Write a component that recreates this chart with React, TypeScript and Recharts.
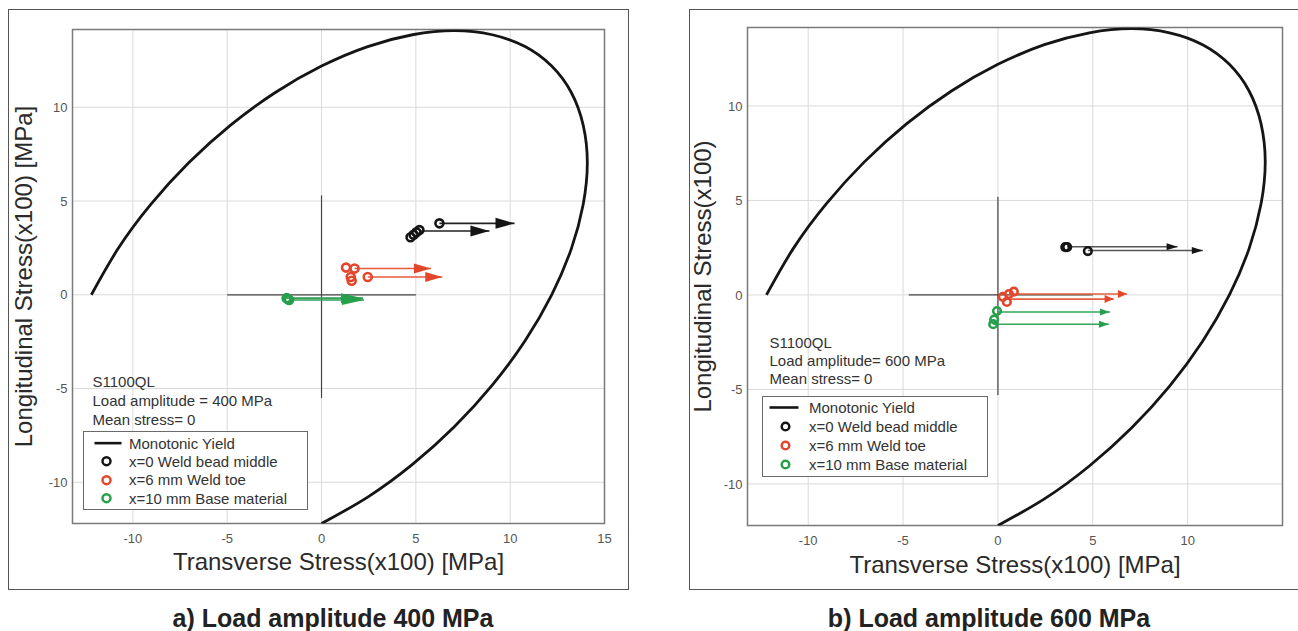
import React from 'react';
import { ScatterChart, Scatter, XAxis, YAxis, CartesianGrid, ReferenceLine, ReferenceArea, Legend } from 'recharts';

type Pair = [number, number];
type Arrow = [number, number, number]; // [xFrom, xTo, y]

const FONT = '"Liberation Sans", Arial, Helvetica, sans-serif';

// Monotonic yield locus (x100 MPa), points along the drawn curve
const YIELD_X = [-12.2, -10.79, -9.05, -7.04, -4.82, -2.45, 0, 2.45, 4.82, 7.04, 9.05, 10.79, 12.2, 13.24, 13.87, 14.09, 13.87, 13.24, 12.2, 10.79, 9.05, 7.04, 4.82, 2.45, 0];
const YIELD_Y = [0, 2.45, 4.82, 7.04, 9.05, 10.79, 12.2, 13.24, 13.87, 14.09, 13.87, 13.24, 12.2, 10.79, 9.05, 7.04, 4.82, 2.45, 0, -2.45, -4.82, -7.04, -9.05, -10.79, -12.2];

const X_DOMAIN = [-13.2, 15];
const Y_DOMAIN = [-12.2, 14.15];
const X_TICKS_A = [-10, -5, 0, 5, 10, 15];
const X_TICKS_B = [-10, -5, 0, 5, 10];
const Y_TICKS = [-10, -5, 0, 5, 10];

const LEGEND_LABELS = ['Monotonic Yield', 'x=0 Weld bead middle', 'x=6 mm Weld toe', 'x=10 mm Base material'];

// a) load amplitude 400 MPa
const A_NOTES = ['S1100QL', 'Load amplitude = 400 MPa', 'Mean stress= 0'];
const A_BEAD: Pair[] = [[4.72, 3.07], [4.88, 3.2], [5.03, 3.33], [5.19, 3.45], [6.25, 3.81]];
const A_TOE: Pair[] = [[1.3, 1.45], [1.75, 1.4], [1.55, 0.95], [1.6, 0.75], [2.45, 0.95]];
const A_BASE: Pair[] = [[-1.85, -0.18], [-1.72, -0.28], [-1.78, -0.22]];
const A_BEAD_ARROWS: Arrow[] = [[6.25, 10.23, 3.81], [5.19, 8.9, 3.4]];
const A_TOE_ARROWS: Arrow[] = [[1.75, 5.8, 1.4], [2.45, 6.4, 0.95]];
const A_BASE_ARROWS: Arrow[] = [[-1.85, 2.2, -0.18], [-1.72, 2.25, -0.28]];
const A_CROSS_X = [-5, 5];
const A_CROSS_Y = [-5.5, 5.3];

// b) load amplitude 600 MPa
const B_NOTES = ['S1100QL', 'Load amplitude= 600 MPa', 'Mean stress= 0'];
const B_BEAD: Pair[] = [[3.55, 2.53], [3.65, 2.53], [4.74, 2.32]];
const B_TOE: Pair[] = [[0.26, -0.1], [0.47, -0.37], [0.58, 0.05], [0.84, 0.17]];
const B_BASE: Pair[] = [[-0.05, -0.85], [-0.2, -1.3], [-0.25, -1.55]];
const B_BEAD_ARROWS: Arrow[] = [[3.65, 9.47, 2.55], [4.74, 10.8, 2.35]];
const B_TOE_ARROWS: Arrow[] = [[0.84, 6.8, 0.05], [0.47, 6.1, -0.22]];
const B_BASE_ARROWS: Arrow[] = [[-0.05, 5.9, -0.9], [-0.25, 5.85, -1.55]];
const B_CROSS_X = [-4.7, 5];
const B_CROSS_Y = [-5.3, 5.2];

const BLACK = '#151515';
const RED = '#e4462b';
const GREEN = '#27a04c';

const yieldData = YIELD_X.map((x, i) => ({ x, y: YIELD_Y[i] }));
const toPoints = (pairs: Pair[]) => pairs.map(([x, y]) => ({ x, y }));

const ring = (color: string, r: number, w: number) => (p: any) =>
  <circle cx={p.cx} cy={p.cy} r={r} fill="none" stroke={color} strokeWidth={w} />;

const arrowHead = (color: string, len: number, half: number) => (p: any) =>
  p.payload && p.payload.tip ? (
    <polygon points={`${p.cx},${p.cy} ${p.cx - len},${p.cy - half} ${p.cx - len},${p.cy + half}`} fill={color} />
  ) : (
    <g />
  );

interface Group {
  key: string;
  color: string;
  shaft: string;
  points: Pair[];
  arrows: Arrow[];
  head: [number, number];
}

interface LegendBox {
  left: number;
  top: number;
  notePad: number;
  noteLine: number;
  gap: number;
  width: number;
  height: number;
  rowH: number;
  padTop: number;
  lineFrom: number;
  lineTo: number;
  markerX: number;
  textX: number;
}

interface PanelProps {
  left: number;
  top: number;
  margin: { top: number; right: number; bottom: number; left: number };
  xTicks: number[];
  yTitle: string;
  yTitleOffset: number;
  xTitleOffset: number;
  groups: Group[];
  crossX: number[];
  crossY: number[];
  notes: string[];
  legend: LegendBox;
  ringR: number;
  caption: string;
  captionX: number;
}

const FRAME_W = 621;
const FRAME_H = 581;
// the svg reaches a little past the frame's left edge so the rotated title is not clipped
const PAD = 8;

const LegendBlock = ({ notes, box, ringR }: { notes: string[]; box: LegendBox; ringR: number }) => {
  const swatches = [null, BLACK, RED, GREEN];
  return (
    <div style={{ fontFamily: FONT, fontSize: 15, color: '#333' }}>
      <div style={{ paddingLeft: box.notePad, lineHeight: `${box.noteLine}px`, whiteSpace: 'nowrap' }}>
        {notes.map((n) => (
          <div key={n}>{n}</div>
        ))}
      </div>
      <div
        style={{
          marginTop: box.gap,
          width: box.width,
          height: box.height,
          border: '1.5px solid #6a6a6a',
          background: '#fff',
          boxSizing: 'border-box',
          paddingTop: box.padTop,
        }}
      >
        {LEGEND_LABELS.map((label, i) => (
          <div key={label} style={{ height: box.rowH, display: 'flex', alignItems: 'center', whiteSpace: 'nowrap' }}>
            <svg width={box.textX - 1.5} height={box.rowH} style={{ flex: 'none' }}>
              {swatches[i] === null ? (
                <line x1={box.lineFrom - 1.5} x2={box.lineTo - 1.5} y1={box.rowH / 2} y2={box.rowH / 2} stroke={BLACK} strokeWidth={2.6} />
              ) : (
                <circle cx={box.markerX - 1.5} cy={box.rowH / 2} r={ringR} fill="none" stroke={swatches[i] as string} strokeWidth={2.5} />
              )}
            </svg>
            <span>{label}</span>
          </div>
        ))}
      </div>
    </div>
  );
};

const Panel = (props: PanelProps) => {
  const { margin, xTicks, groups, legend } = props;
  const tickStyle = { fill: '#555', fontSize: 13, fontFamily: FONT };
  return (
    <>
      <div
        style={{
          position: 'absolute',
          left: props.left,
          top: props.top,
          width: FRAME_W,
          height: FRAME_H,
          border: '1.5px solid #555',
          boxSizing: 'border-box',
          background: '#fff',
        }}
      >
        <div style={{ position: 'absolute', left: -PAD, top: 0 }}>
          <ScatterChart
            width={FRAME_W - 3 + PAD}
            height={FRAME_H - 3}
            margin={{ ...margin, left: margin.left + PAD }}
            style={{ fontFamily: FONT }}
          >
            <CartesianGrid stroke="#dadada" strokeWidth={1} />
            <XAxis
              type="number"
              dataKey="x"
              domain={X_DOMAIN}
              ticks={xTicks}
              allowDataOverflow
              axisLine={false}
              tickLine={false}
              tickSize={0}
              tickMargin={10}
              height={40}
              tick={tickStyle}
              label={{
                value: 'Transverse Stress(x100) [MPa]',
                position: 'bottom',
                offset: props.xTitleOffset,
                style: { fontSize: 24, fill: '#2a2a2a', fontFamily: FONT },
              }}
            />
            <YAxis
              type="number"
              dataKey="y"
              domain={Y_DOMAIN}
              ticks={Y_TICKS}
              allowDataOverflow
              axisLine={false}
              tickLine={false}
              tickSize={0}
              tickMargin={5}
              width={50}
              tick={tickStyle}
              label={{
                value: props.yTitle,
                angle: -90,
                position: 'insideLeft',
                offset: props.yTitleOffset,
                style: { fontSize: 24, fill: '#2a2a2a', fontFamily: FONT, textAnchor: 'middle' },
              }}
            />
            <ReferenceArea
              x1={X_DOMAIN[0]}
              x2={X_DOMAIN[1]}
              y1={Y_DOMAIN[0]}
              y2={Y_DOMAIN[1]}
              fill="none"
              stroke="#7a7a7a"
              strokeWidth={1.5}
              fillOpacity={0}
            />
            <ReferenceLine
              segment={[{ x: props.crossX[0], y: 0 }, { x: props.crossX[1], y: 0 }]}
              stroke="#444"
              strokeWidth={1.2}
            />
            <ReferenceLine
              segment={[{ x: 0, y: props.crossY[0] }, { x: 0, y: props.crossY[1] }]}
              stroke="#444"
              strokeWidth={1.2}
            />
            <Scatter
              name="Monotonic Yield"
              data={yieldData}
              line={{ stroke: BLACK, strokeWidth: 2.8 }}
              lineJointType="natural"
              shape={() => <g />}
              isAnimationActive={false}
            />
            {groups.map((g) =>
              g.arrows.map(([x0, x1, y], i) => (
                <Scatter
                  key={`${g.key}-arrow-${i}`}
                  data={[{ x: x0, y }, { x: x1, y, tip: true }]}
                  line={{ stroke: g.shaft, strokeWidth: 1.6 }}
                  shape={arrowHead(g.color, g.head[0], g.head[1])}
                  isAnimationActive={false}
                />
              ))
            )}
            {groups.map((g) => (
              <Scatter
                key={`${g.key}-pts`}
                data={toPoints(g.points)}
                shape={ring(g.color, props.ringR, 2.6)}
                isAnimationActive={false}
              />
            ))}
            <Legend
              layout="vertical"
              align="center"
              verticalAlign="middle"
              wrapperStyle={{ left: legend.left + PAD, top: legend.top, width: 'auto' }}
              content={() => <LegendBlock notes={props.notes} box={legend} ringR={props.ringR} />}
            />
          </ScatterChart>
        </div>
      </div>
      <div
        style={{
          position: 'absolute',
          left: props.captionX - 250,
          top: 604,
          width: 500,
          textAlign: 'center',
          fontFamily: FONT,
          fontWeight: 'bold',
          fontSize: 25,
          lineHeight: '28px',
          color: '#222',
          whiteSpace: 'nowrap',
        }}
      >
        {props.caption}
      </div>
    </>
  );
};

export default function App() {
  return (
    <div
      style={{
        position: 'absolute',
        left: 0,
        top: 0,
        width: 1298,
        height: 631,
        overflow: 'hidden',
        background: '#fff',
      }}
    >
      <Panel
        left={8}
        top={9}
        margin={{ top: 19.5, right: 22.5, bottom: 24.5, left: 13.5 }}
        xTicks={X_TICKS_A}
        yTitle="Longitudinal Stress(x100) [MPa]"
        yTitleOffset={1}
        xTitleOffset={-10.5}
        groups={[
          { key: 'bead', color: BLACK, shaft: '#222', points: A_BEAD, arrows: A_BEAD_ARROWS, head: [19, 5.5] },
          { key: 'toe', color: RED, shaft: '#e8583d', points: A_TOE, arrows: A_TOE_ARROWS, head: [17, 5] },
          { key: 'base', color: GREEN, shaft: '#2fa055', points: A_BASE, arrows: A_BASE_ARROWS, head: [22, 5] },
        ]}
        crossX={A_CROSS_X}
        crossY={A_CROSS_Y}
        notes={A_NOTES}
        legend={{
          left: 73.5,
          top: 361.5,
          notePad: 10,
          noteLine: 19,
          gap: 2,
          width: 225,
          height: 79,
          rowH: 18.3,
          padTop: 2.5,
          lineFrom: 12,
          lineTo: 39,
          markerX: 24,
          textX: 47,
        }}
        ringR={4}
        caption="a) Load amplitude 400 MPa"
        captionX={333}
      />
      <Panel
        left={689}
        top={9}
        margin={{ top: 17.5, right: 25.5, bottom: 22.5, left: 7.5 }}
        xTicks={X_TICKS_B}
        yTitle="Longitudinal Stress(x100)"
        yTitleOffset={4.5}
        xTitleOffset={-9.5}
        groups={[
          { key: 'bead', color: BLACK, shaft: '#555', points: B_BEAD, arrows: B_BEAD_ARROWS, head: [11, 3.5] },
          { key: 'toe', color: RED, shaft: '#e0603f', points: B_TOE, arrows: B_TOE_ARROWS, head: [9, 4] },
          { key: 'base', color: GREEN, shaft: '#35a55c', points: B_BASE, arrows: B_BASE_ARROWS, head: [10, 3.5] },
        ]}
        crossX={B_CROSS_X}
        crossY={B_CROSS_Y}
        notes={B_NOTES}
        legend={{
          left: 71.5,
          top: 323.5,
          notePad: 8,
          noteLine: 18,
          gap: 8,
          width: 226,
          height: 81,
          rowH: 19,
          padTop: 1,
          lineFrom: 8,
          lineTo: 37,
          markerX: 24,
          textX: 48,
        }}
        ringR={3.8}
        caption="b) Load amplitude 600 MPa"
        captionX={989}
      />
    </div>
  );
}
